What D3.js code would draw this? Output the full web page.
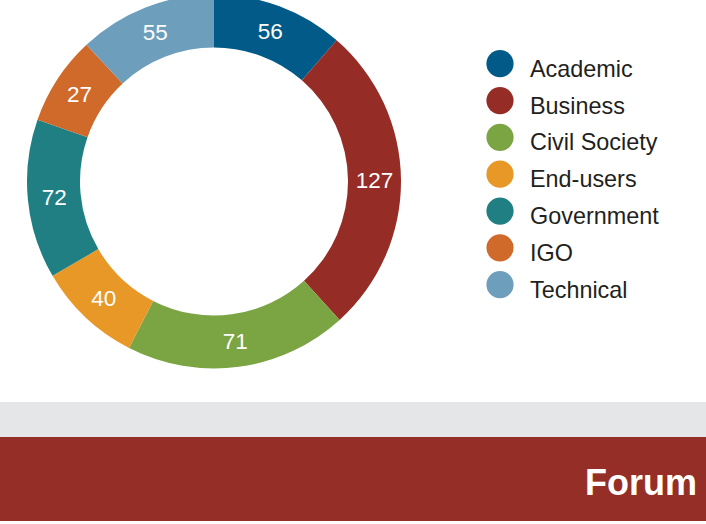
<!DOCTYPE html>
<html>
<head>
<meta charset="utf-8">
<script src="https://cdn.jsdelivr.net/npm/d3@7"></script>
<style>
  html, body { margin: 0; padding: 0; background: #fff; }
  svg { display: block; }
</style>
</head>
<body>
<svg id="donut" width="706" height="524"></svg>
<script>
// stakeholder groups, clockwise from 12 o'clock
var categories = ['Academic', 'Business', 'Civil Society', 'End-users', 'Government', 'IGO', 'Technical']
// numbers printed on the ring
var counts = [56, 127, 71, 40, 72, 27, 55]
// the ring's slices don't follow the printed numbers, so their sizes (degrees) are read off the picture
var sliceDegrees = [41, 96.8, 69.2, 32.7, 49.6, 27.7, 43]
var colors = ['#015a87', '#952d26', '#7ba443', '#e79826', '#1f7f83', '#cf6a2b', '#6d9ebb']
var footerTitle = 'Forum'

var svg = d3.select('#donut'),
  width = +svg.attr('width'),
  height = +svg.attr('height')

var cx = 214, cy = 181.5,
  outerR = 187, innerR = 134

var data = categories.map(function (c, i) {
  return { name: c, count: counts[i], share: sliceDegrees[i] }
})

var color = d3.scaleOrdinal().domain(categories).range(colors)

var pie = d3.pie()
  .sort(null)
  .value(function (d) { return d.share })

var arc = d3.arc()
  .innerRadius(innerR)
  .outerRadius(outerR)

var g = svg.append('g')
  .attr('transform', 'translate(' + cx + ',' + cy + ')')

var arcs = pie(data)

g.selectAll('.slice')
  .data(arcs)
  .enter().append('path')
  .attr('class', 'slice')
  .attr('d', arc)
  .attr('fill', function (d) { return color(d.data.name) })

g.selectAll('.sliceValue')
  .data(arcs)
  .enter().append('text')
  .attr('class', 'sliceValue')
  .attr('transform', function (d) { return 'translate(' + arc.centroid(d) + ')' })
  .attr('dy', '0.36em')
  .style('text-anchor', 'middle')
  .style('font-family', '"Liberation Sans", Arial, sans-serif')
  .style('font-size', '22.5px')
  .style('fill', '#fff')
  .text(function (d) { return d.data.count })

// legend
var legendY = d3.scalePoint()
  .domain(categories)
  .range([63.7, 284.7])

var legend = svg.append('g')
  .selectAll('.legendItem')
  .data(categories)
  .enter().append('g')
  .attr('class', 'legendItem')
  .attr('transform', function (d) { return 'translate(500,' + legendY(d) + ')' })

legend.append('circle')
  .attr('r', 13.6)
  .attr('fill', function (d) { return color(d) })

legend.append('text')
  .attr('x', 30)
  .attr('y', 13)
  .style('font-family', '"Liberation Sans", Arial, sans-serif')
  .style('font-size', '23.4px')
  .style('fill', '#231f20')
  .text(function (d) { return d })

// footer bands
svg.append('rect')
  .attr('x', 0).attr('y', 402)
  .attr('width', width).attr('height', 35)
  .attr('fill', '#e5e6e8')

svg.append('rect')
  .attr('x', 0).attr('y', 437)
  .attr('width', width).attr('height', 84)
  .attr('fill', '#952e26')

svg.append('text')
  .attr('x', 697)
  .attr('y', 494.5)
  .style('text-anchor', 'end')
  .style('font-family', '"Liberation Sans", Arial, sans-serif')
  .style('font-weight', 'bold')
  .style('font-size', '36px')
  .style('fill', '#fff')
  .text(footerTitle)
</script>
</body>
</html>
